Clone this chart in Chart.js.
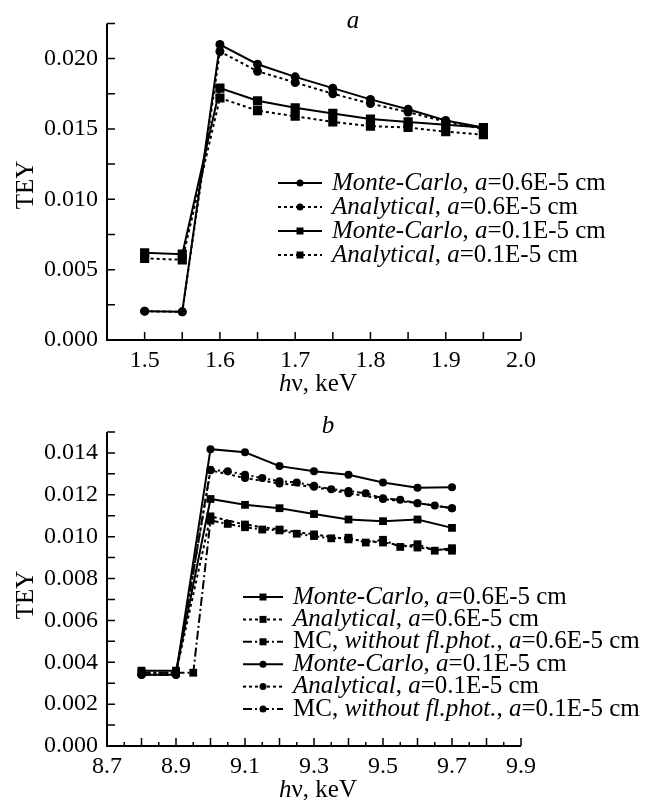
<!DOCTYPE html>
<html>
<head>
<meta charset="utf-8">
<script src="https://cdn.jsdelivr.net/npm/chart.js@4"></script>
<style>
    body { margin: 0; background: #fff; }
    .painel { position: absolute; left: 0; width: 646px; height: 400px; }
</style>
</head>
<body>
<div class="painel" style="top:0"><canvas id="grafico-a" width="646" height="400"></canvas></div>
<div class="painel" style="top:400px"><canvas id="grafico-b" width="646" height="400"></canvas></div>
<script>
// painel a
const xA = [1.5, 1.55, 1.6, 1.65, 1.7, 1.75, 1.8, 1.85, 1.9, 1.95];
const mc06A = [0.00205, 0.00200, 0.0210, 0.0196, 0.0187, 0.0179, 0.0171, 0.0164, 0.0156, 0.0151];
const an06A = [0.00205, 0.00200, 0.0205, 0.0191, 0.0183, 0.0175, 0.0168, 0.0162, 0.0155, 0.0150];
const mc01A = [0.0062, 0.0061, 0.0179, 0.0170, 0.0165, 0.0161, 0.0157, 0.0155, 0.0153, 0.0151];
const an01A = [0.0058, 0.0057, 0.0172, 0.0163, 0.0159, 0.0155, 0.0152, 0.0151, 0.0148, 0.0146];

// painel b
const xB = [8.8, 8.9, 9.0, 9.1, 9.2, 9.3, 9.4, 9.5, 9.6, 9.7];
const xBsem06 = [8.8, 8.9, 8.95, 9.0, 9.05, 9.1, 9.15, 9.2, 9.25, 9.3, 9.35, 9.4, 9.45, 9.5, 9.55, 9.6, 9.65, 9.7];
const xBsem01 = [8.8, 8.9, 9.0, 9.05, 9.1, 9.15, 9.2, 9.25, 9.3, 9.35, 9.4, 9.45, 9.5, 9.55, 9.6, 9.65, 9.7];
const mc06B = [0.0036, 0.0036, 0.0118, 0.01152, 0.01136, 0.01108, 0.01082, 0.01074, 0.01082, 0.01042];
const an06B = [0.0035, 0.0035, 0.01097, 0.01058, 0.01034, 0.01011, 0.00987, 0.00972, 0.00948, 0.00933];
const sem06B = [0.0035, 0.0035, 0.0035, 0.01077, 0.01061, 0.01045, 0.01034, 0.0103, 0.01014, 0.01003, 0.00992, 0.00995, 0.00972, 0.00985, 0.00951, 0.00964, 0.00933, 0.00945];
const mc01B = [0.0034, 0.0034, 0.01418, 0.01403, 0.01337, 0.01312, 0.01296, 0.01259, 0.01234, 0.01236];
const an01B = [0.0034, 0.0034, 0.01317, 0.0128, 0.01254, 0.01238, 0.01207, 0.0118, 0.0116, 0.01136];
const sem01B = [0.0034, 0.0034, 0.0132, 0.01312, 0.01296, 0.0128, 0.01265, 0.01259, 0.01243, 0.01227, 0.01218, 0.01207, 0.01183, 0.01176, 0.0116, 0.01149, 0.01136];

const legendaA = [
    [['Monte-Carlo', true], [', ', false], ['a', true], ['=0.6E-5 cm', false]],
    [['Analytical', true], [', ', false], ['a', true], ['=0.6E-5 cm', false]],
    [['Monte-Carlo', true], [', ', false], ['a', true], ['=0.1E-5 cm', false]],
    [['Analytical', true], [', ', false], ['a', true], ['=0.1E-5 cm', false]]
];
const legendaB = [
    [['Monte-Carlo', true], [', ', false], ['a', true], ['=0.6E-5 cm', false]],
    [['Analytical', true], [', ', false], ['a', true], ['=0.6E-5 cm', false]],
    [['MC, ', false], ['without fl.phot.', true], [', ', false], ['a', true], ['=0.6E-5 cm', false]],
    [['Monte-Carlo', true], [', ', false], ['a', true], ['=0.1E-5 cm', false]],
    [['Analytical', true], [', ', false], ['a', true], ['=0.1E-5 cm', false]],
    [['MC, ', false], ['without fl.phot.', true], [', ', false], ['a', true], ['=0.1E-5 cm', false]]
];

const fonte = 'Liberation Serif';
const SOLIDO = [], PONTILHADO = [3, 3], TRACO_PONTO = [9, 3, 2, 3];

function pontos(xs, ys) {
    return xs.map((x, i) => ({ x: x, y: ys[i] }));
}

function serie(xs, ys, tracejado, marcador, raio) {
    return {
        data: pontos(xs, ys),
        borderColor: '#000',
        backgroundColor: '#000',
        borderWidth: 2,
        borderDash: tracejado,
        pointStyle: marcador,
        pointRadius: raio,
        pointBorderWidth: 0,
        tension: 0
    };
}

function textoRico(ctx, partes, x, y, tam) {
    for (const [txt, ital] of partes) {
        ctx.font = (ital ? 'italic ' : '') + tam + 'px ' + fonte;
        ctx.fillText(txt, x, y);
        x += ctx.measureText(txt).width;
    }
    return x;
}

function larguraRica(ctx, partes, tam) {
    let w = 0;
    for (const [txt, ital] of partes) {
        ctx.font = (ital ? 'italic ' : '') + tam + 'px ' + fonte;
        w += ctx.measureText(txt).width;
    }
    return w;
}

// coisas desenhadas à mão em cada painel
const enfeites = {
    'grafico-a': { titulo: 'a', tituloX: 353, tituloY: 28, teyY: 185, menorX: 8,
                   legenda: legendaA, legX: 278, legY: 183, legDy: 24, legLinha: 44, xTituloY: 391 },
    'grafico-b': { titulo: 'b', tituloX: 328, tituloY: 33, teyY: 195, menorX: 4,
                   legenda: legendaB, legX: 243, legY: 197, legDy: 22.4, legLinha: 40, xTituloY: 397 }
};

const decor = {
    id: 'decor',
    afterDraw(chart) {
        const op = enfeites[chart.canvas.id];
        const ctx = chart.ctx;
        const area = chart.chartArea;
        const sx = chart.scales.x, sy = chart.scales.y;
        ctx.save();
        ctx.strokeStyle = '#000';
        ctx.fillStyle = '#000';
        ctx.setLineDash([]);

        ctx.lineWidth = 2;
        ctx.beginPath();
        ctx.moveTo(area.left, area.top);
        ctx.lineTo(area.left, area.bottom);
        ctx.lineTo(area.right, area.bottom);
        ctx.stroke();

        ctx.lineWidth = 1.5;
        ctx.beginPath();
        sy.ticks.forEach(t => {
            const p = sy.getPixelForValue(t.value);
            ctx.moveTo(area.left, p);
            ctx.lineTo(area.left + 8, p);
        });
        sx.ticks.forEach(t => {
            const p = sx.getPixelForValue(t.value);
            const l = Math.round(t.value * 100) % 10 === 0 ? 8 : op.menorX;
            ctx.moveTo(p, area.bottom);
            ctx.lineTo(p, area.bottom - l);
        });
        ctx.stroke();

        // título do painel
        ctx.textBaseline = 'alphabetic';
        ctx.textAlign = 'center';
        ctx.font = 'italic 25px ' + fonte;
        ctx.fillText(op.titulo, op.tituloX, op.tituloY);

        // TEY
        ctx.save();
        ctx.translate(26, op.teyY);
        ctx.rotate(-Math.PI / 2);
        ctx.font = '25px ' + fonte;
        ctx.textBaseline = 'middle';
        ctx.fillText('TEY', 0, 0);
        ctx.restore();

        // hν, keV
        ctx.textAlign = 'left';
        const tituloX = [['h', true], ['ν, keV', false]];
        const w = larguraRica(ctx, tituloX, 25);
        textoRico(ctx, tituloX, 318 - w / 2, op.xTituloY, 25);

        // legenda
        ctx.textBaseline = 'middle';
        chart.data.datasets.forEach((ds, i) => {
            const y = op.legY + i * op.legDy;
            const x0 = op.legX, x1 = op.legX + op.legLinha;
            ctx.lineWidth = 2;
            ctx.setLineDash(ds.borderDash);
            ctx.beginPath();
            ctx.moveTo(x0, y);
            ctx.lineTo(x1, y);
            ctx.stroke();
            ctx.setLineDash([]);
            const xm = (x0 + x1) / 2;
            if (ds.pointStyle === 'rect') {
                ctx.fillRect(xm - 3.5, y - 3.5, 7, 7);
            } else {
                ctx.beginPath();
                ctx.arc(xm, y, 3.5, 0, Math.PI * 2);
                ctx.fill();
            }
            textoRico(ctx, op.legenda[i], x1 + 10, y, 25);
        });
        ctx.restore();
    }
};

function opcoes(xmin, xmax, ymin, ymax, ypasso, rotuloX, rotuloY, padTopo, alturaX) {
    return {
        responsive: false,
        animation: false,
        devicePixelRatio: 1,
        layout: { padding: { left: 0, right: 125, top: padTopo, bottom: 0 } },
        plugins: { legend: { display: false }, tooltip: { enabled: false } },
        scales: {
            x: {
                type: 'linear', min: xmin, max: xmax,
                grid: { display: false, drawTicks: false },
                border: { display: false },
                afterFit: s => { s.height = alturaX; },
                ticks: {
                    stepSize: 0.05, autoSkip: false, maxRotation: 0, padding: 6,
                    color: '#000', font: { family: fonte, size: 24 },
                    callback: rotuloX
                }
            },
            y: {
                min: ymin, max: ymax,
                grid: { display: false, drawTicks: false },
                border: { display: false },
                afterFit: s => { s.width = 107; },
                ticks: {
                    stepSize: ypasso, autoSkip: false, padding: 9,
                    color: '#000', font: { family: fonte, size: 24 },
                    callback: rotuloY
                }
            }
        }
    };
}

function graficoA() {
    const config = {
        type: 'line',
        data: {
            datasets: [
                serie(xA, mc06A, SOLIDO, 'circle', 4.5),
                serie(xA, an06A, PONTILHADO, 'circle', 4.5),
                serie(xA, mc01A, SOLIDO, 'rect', 6.5),
                serie(xA, an01A, PONTILHADO, 'rect', 6.5)
            ]
        },
        options: opcoes(1.45, 2.0, 0, 0.0225, 0.0025,
            v => (Math.round(v * 100) % 10 === 0 && v > 1.47) ? v.toFixed(1) : '',
            v => Math.round(v * 10000) % 50 === 0 ? v.toFixed(3) : '',
            23, 60),
        plugins: [decor]
    };
    new Chart(document.getElementById('grafico-a'), config);
}

function graficoB() {
    const config = {
        type: 'line',
        data: {
            datasets: [
                serie(xB, mc06B, SOLIDO, 'rect', 5.5),
                serie(xB, an06B, PONTILHADO, 'rect', 5.5),
                serie(xBsem06, sem06B, TRACO_PONTO, 'rect', 5.5),
                serie(xB, mc01B, SOLIDO, 'circle', 4),
                serie(xB, an01B, PONTILHADO, 'circle', 4),
                serie(xBsem01, sem01B, TRACO_PONTO, 'circle', 4)
            ]
        },
        options: opcoes(8.7, 9.9, 0, 0.015, 0.001,
            v => (Math.round(v * 100) - 870) % 20 === 0 ? v.toFixed(1) : '',
            v => Math.round(v * 1000) % 2 === 0 ? v.toFixed(3) : '',
            32, 54),
        plugins: [decor]
    };
    new Chart(document.getElementById('grafico-b'), config);
}

graficoA();
graficoB();
</script>
</body>
</html>
